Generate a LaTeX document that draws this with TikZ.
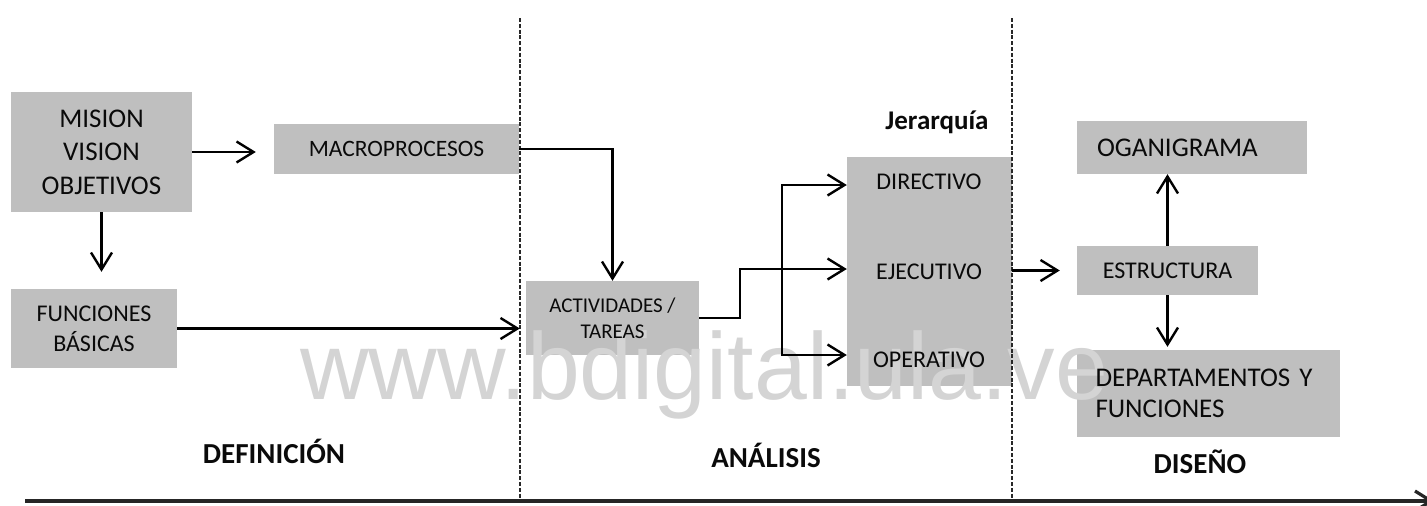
\documentclass[tikz,border=0pt]{standalone}
\usepackage{fontspec}
\setmainfont{Carlito}
\newfontfamily\wmfont{Liberation Sans}
\usetikzlibrary{arrows.meta,calc}
\pgfdeclarelayer{bg}
\pgfdeclarelayer{wm}
\pgfsetlayers{bg,wm,main}
\definecolor{boxgray}{RGB}{191,191,191}
\definecolor{wmgray}{RGB}{212,212,212}
\definecolor{txt}{RGB}{10,10,10}
\definecolor{sepgray}{RGB}{40,40,40}
\begin{document}
\begin{tikzpicture}[x=1pt,y=-1pt,
  box/.style={inner sep=0pt, text=txt, align=center},
  lbl/.style={inner sep=0pt, text=txt},
  phase/.style={inner sep=0pt, text=txt, anchor=base, font=\bfseries\fontsize{29}{29}\selectfont},
  arr/.style={line width=2.4pt, line join=miter, -{Straight Barb[length=17pt,width=21pt]}},
  sep/.style={line width=1.4pt, sepgray, dash pattern=on 4pt off 1.8pt}]
\useasboundingbox (0,0) rectangle (1427,506);

% boxes
\node[box, minimum width=181pt, minimum height=120pt, font=\fontsize{27}{33.5}\selectfont] (mis) at (101.5,152) {MISION\\VISION\\OBJETIVOS};
\node[box, minimum width=245pt, minimum height=50pt, font=\fontsize{23.5}{28}\selectfont] (mac) at (396.5,149) {MACROPROCESOS};
\node[box, minimum width=166pt, minimum height=79pt, font=\fontsize{24}{30}\selectfont] (fun) at (94,328.5) {FUNCIONES\\BÁSICAS};
\node[box, minimum width=173pt, minimum height=74pt, font=\fontsize{21}{26}\selectfont] (act) at (612.5,318) {ACTIVIDADES /\\TAREAS};
\node[box, minimum width=165pt, minimum height=229pt] (hier) at (929.5,271.5) {};
\node[lbl, font=\fontsize{24}{28}\selectfont] (dir) at (929,182) {DIRECTIVO};
\node[lbl, font=\fontsize{24}{28}\selectfont] (eje) at (929,272) {EJECUTIVO};
\node[lbl, font=\fontsize{24}{28}\selectfont] (ope) at (929,360) {OPERATIVO};
\node[lbl, anchor=base, font=\bfseries\fontsize{27}{27}\selectfont] (jer) at (937,129) {Jerarquía};
\node[box, align=left, text width=190pt, inner xsep=20pt, minimum height=53pt, font=\fontsize{27}{31}\selectfont] (ogan) at (1192,147.5) {OGANIGRAMA};
\node[box, minimum width=181pt, minimum height=49pt, font=\fontsize{24}{28}\selectfont] (estr) at (1167.5,270.5) {ESTRUCTURA};
\node[box, align=left, text width=226pt, inner xsep=18.5pt, minimum height=87pt, font=\fontsize{27}{31}\selectfont] (dept) at (1208.5,393.5) {DEPARTAMENTOS Y\\FUNCIONES};

% phase labels
\node[phase] (def) at (274,463) {DEFINICIÓN};
\node[phase] (ana) at (766,467) {ANÁLISIS};
\node[phase] (dis) at (1200,473) {DISEÑO};

% box fills
\begin{pgfonlayer}{bg}
\foreach \n in {mis,mac,fun,act,hier,ogan,estr,dept}
  \fill[boxgray] (\n.south west) rectangle (\n.north east);
\end{pgfonlayer}

% watermark
\begin{pgfonlayer}{wm}
\node[anchor=base west, inner sep=0pt, text=wmgray, font=\wmfont\fontsize{95}{95}\selectfont] (wmk) at (300,399) {www.bdigital.ula.ve};
\end{pgfonlayer}

% separators and time axis
\draw[sep] (520,18) -- (520,501);
\draw[sep] (1012,18) -- (1012,501);
\draw[line width=3.2pt, black!85, -{Straight Barb[length=16pt,width=20pt]}] (25,501) -- (1434,501);

% connectors
\draw[arr, shorten >=18pt] (mis.east) -- (mis.east -| mac.west);
\draw[arr, shorten >=17pt] (mis.south) -- (mis.south |- fun.north);
\draw[arr, shorten >=6pt] (fun.east) -- (fun.east -| act.west);
\draw[arr] (mac.east) -| (act.north);
\coordinate (k) at (740,269);
\draw[arr] (act.east) -| (k) -- (k -| hier.west);
\coordinate (b) at (782,269);
\coordinate (bt) at (782,185);
\coordinate (bb) at (782,355);
\draw[arr] (b) |- (hier.west |- bt);
\draw[arr] (b) |- (hier.west |- bb);
\draw[arr, shorten >=17pt] (estr.west -| hier.east) -- (estr.west);
\draw[arr] (estr.north) -- (estr.north |- ogan.south);
\draw[arr, shorten >=3pt] (estr.south) -- (estr.south |- dept.north);
\end{tikzpicture}
\end{document}
